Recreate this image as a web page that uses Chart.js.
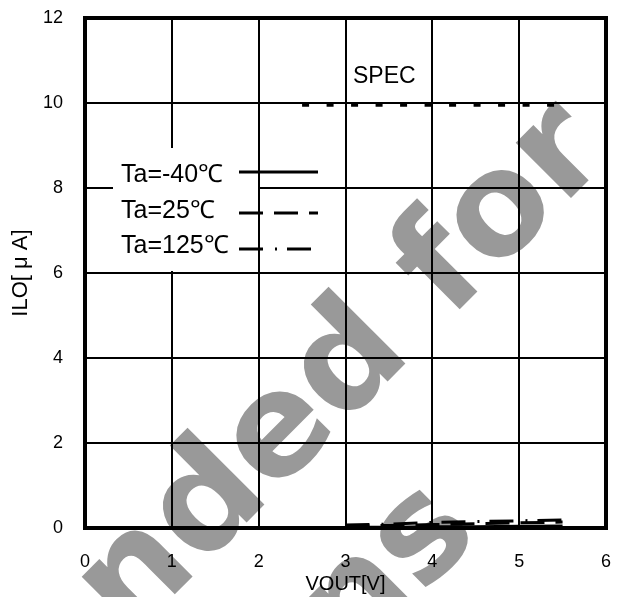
<!DOCTYPE html>
<html><head><meta charset="utf-8">
<script src="https://cdn.jsdelivr.net/npm/chart.js@4/dist/chart.umd.min.js"></script>
<style>html,body{margin:0;padding:0;background:#fff;overflow:hidden}canvas{display:block}</style>
</head><body>
<canvas id="c" width="617" height="597"></canvas>
<script>
// ---- data ----
const vout = [3.0, 3.5, 4.0, 4.5, 5.0, 5.5];
const iloTaM40 = [0.02, 0.02, 0.03, 0.03, 0.04, 0.05];
const iloTa25 = [0.05, 0.06, 0.08, 0.10, 0.12, 0.14];
const iloTa125 = [0.07, 0.09, 0.13, 0.15, 0.17, 0.19];
const specVout = [2.5, 5.5];
const specIlo = [9.95, 9.95];
const seriesLabels = ['Ta=-40℃', 'Ta=25℃', 'Ta=125℃'];
const specLabel = 'SPEC';
const xTitle = 'VOUT[V]';
const yTitle = 'ILO[ μ A]';
const xTickValues = [0, 1, 2, 3, 4, 5, 6];
const yTickValues = [0, 2, 4, 6, 8, 10, 12];
const watermarkLines = ['Not Recommended for', 'New Designs'];

const pts = (xs, ys) => xs.map((x, i) => ({x, y: ys[i]}));
const FONT = '"Liberation Sans", Arial, sans-serif';

const deco = {
  id: 'deco',
  beforeDraw(chart) {
    const ctx = chart.ctx;
    ctx.save();
    ctx.fillStyle = '#fff';
    ctx.fillRect(0, 0, chart.width, chart.height);
    ctx.translate(-26, 795);
    ctx.rotate(-Math.PI / 4);
    ctx.fillStyle = '#999';
    ctx.font = 'bold 143px "DejaVu Sans"';
    ctx.textAlign = 'center';
    ctx.textBaseline = 'alphabetic';
    ctx.fillText(watermarkLines[0], 0, 0);
    ctx.fillText(watermarkLines[1], 24, 175);
    ctx.restore();
  },
  afterDatasetsDraw(chart) {
    const ctx = chart.ctx;
    const a = chart.chartArea;
    ctx.save();
    // frame
    ctx.strokeStyle = '#000';
    ctx.lineWidth = 4;
    ctx.setLineDash([]);
    ctx.strokeRect(a.left, a.top, a.right - a.left, a.bottom - a.top);
    // legend box
    ctx.fillStyle = '#fff';
    ctx.fillRect(113, 148, 145, 123);
    ctx.fillStyle = '#000';
    ctx.font = '25px ' + FONT;
    ctx.textAlign = 'left';
    ctx.textBaseline = 'alphabetic';
    const baseY = [182, 218, 253];
    const lineY = [172, 213, 249];
    for (let i = 0; i < 3; i++) {
      ctx.fillText(seriesLabels[i], 121, baseY[i]);
      const ds = chart.data.datasets[i];
      ctx.beginPath();
      ctx.setLineDash(ds.borderDash || []);
      ctx.lineWidth = ds.borderWidth;
      ctx.strokeStyle = '#000';
      ctx.moveTo(239, lineY[i]);
      ctx.lineTo(318, lineY[i]);
      ctx.stroke();
    }
    ctx.setLineDash([]);
    // SPEC label
    ctx.font = '23px ' + FONT;
    ctx.fillText(specLabel, 353, 83);
    ctx.restore();
  }
};

const noPad = s => { s.paddingTop = 0; s.paddingBottom = 0; s.paddingLeft = 0; s.paddingRight = 0; };

new Chart(document.getElementById('c'), {
  type: 'scatter',
  data: {
    datasets: [
      {label: seriesLabels[0], data: pts(vout, iloTaM40), showLine: true, borderColor: '#000', borderWidth: 3, pointRadius: 0, borderDash: []},
      {label: seriesLabels[1], data: pts(vout, iloTa25), showLine: true, borderColor: '#000', borderWidth: 3, pointRadius: 0, borderDash: [24, 11]},
      {label: seriesLabels[2], data: pts(vout, iloTa125), showLine: true, borderColor: '#000', borderWidth: 3, pointRadius: 0, borderDash: [24, 12, 2, 10]},
      {label: specLabel, data: pts(specVout, specIlo), showLine: true, borderColor: '#000', borderWidth: 3, pointRadius: 0, borderDash: [7, 17.5]}
    ]
  },
  options: {
    responsive: false,
    animation: false,
    events: [],
    layout: {autoPadding: false, padding: {top: 18, right: 11, left: 0, bottom: 0}},
    plugins: {legend: {display: false}, tooltip: {enabled: false}},
    scales: {
      x: {
        type: 'linear', min: 0, max: 6,
        afterBuildTicks: s => { s.ticks = xTickValues.map(v => ({value: v})); },
        afterFit: s => { s.height = 69; noPad(s); },
        ticks: {color: '#000', font: {family: FONT, size: 18}, padding: 23, maxRotation: 0},
        grid: {color: '#000', lineWidth: 2, drawTicks: false},
        border: {display: false},
        title: {display: true, text: xTitle, color: '#000', font: {family: FONT, size: 20}, padding: {top: 0, bottom: 1}}
      },
      y: {
        type: 'linear', min: 0, max: 12,
        afterBuildTicks: s => { s.ticks = yTickValues.map(v => ({value: v})); },
        afterFit: s => { s.width = 85; noPad(s); },
        ticks: {color: '#000', font: {family: FONT, size: 18}, padding: 22},
        grid: {color: '#000', lineWidth: 2, drawTicks: false},
        border: {display: false},
        title: {display: true, text: yTitle, color: '#000', font: {family: FONT, size: 22}, padding: {top: 8, bottom: 0}}
      }
    }
  },
  plugins: [deco]
});
</script>
</body></html>
